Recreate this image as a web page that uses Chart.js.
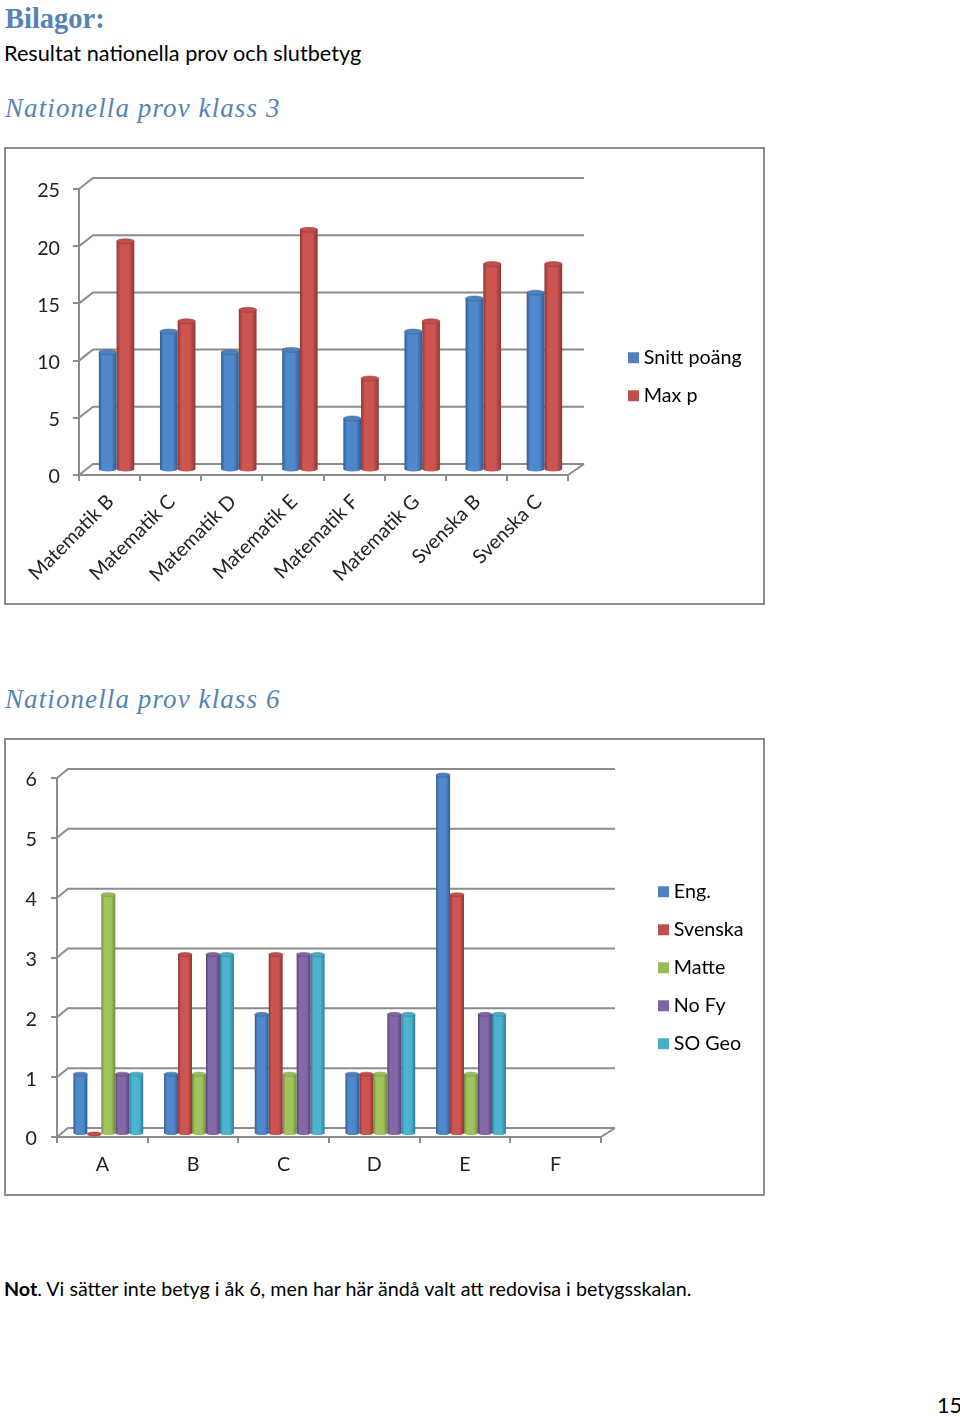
<!DOCTYPE html>
<html lang="sv">
<head>
<meta charset="utf-8">
<title>Bilagor</title>
<style>
  html, body { margin: 0; background: #fff; }
  body { position: relative; width: 960px; height: 1417px; overflow: hidden; font-family: Lato, sans-serif; color: #000; }
  .txt { position: absolute; white-space: nowrap; line-height: 1; }
  .h1 { font: bold 28.5px "Liberation Serif", serif; color: #5583b5; }
  .h2 { font: italic 27px "Liberation Serif", serif; color: #5583b5; letter-spacing: 1.1px; }
  .body { font-size: 21.7px; }
  .note { font-size: 19.7px; }
  .box { position: absolute; left: 4px; width: 761px; height: 458px; box-sizing: border-box; border: 2px solid #8c8c8c; }
  .box canvas { display: block; }
</style>
</head>
<body>
<div class="txt h1" style="left:5px;top:3px">Bilagor:</div>
<div class="txt body" style="left:4px;top:43px">Resultat nationella prov och slutbetyg</div>
<div class="txt h2" style="left:5px;top:93px">Nationella prov klass 3</div>
<div class="box" style="top:147px"><canvas id="klass3" width="757" height="454"></canvas></div>
<div class="txt h2" style="left:5px;top:684px">Nationella prov klass 6</div>
<div class="box" style="top:738px"><canvas id="klass6" width="757" height="454"></canvas></div>
<div class="txt note" style="left:4px;top:1279px"><b>Not</b>. Vi sätter inte betyg i åk 6, men har här ändå valt att redovisa i betygsskalan.</div>
<div class="txt body" style="left:937px;top:1395px">15</div>

<script src="https://cdn.jsdelivr.net/npm/chart.js@4"></script>
<script>
// klass 3
const prov3 = ['Matematik B', 'Matematik C', 'Matematik D', 'Matematik E', 'Matematik F', 'Matematik G', 'Svenska B', 'Svenska C'];
const snittPoang = [10.3, 12.1, 10.3, 10.5, 4.5, 12.1, 15, 15.5];
const maxP = [20, 13, 14, 21, 8, 13, 18, 18];
const ticks3 = [0, 5, 10, 15, 20, 25];

// klass 6
const betyg = ['A', 'B', 'C', 'D', 'E', 'F'];
const eng = [1, 1, 2, 1, 6, null];
const svenska = [0, 3, 3, 1, 4, null];
const matte = [4, 1, 1, 1, 1, null];
const noFy = [1, 3, 3, 2, 2, null];
const soGeo = [1, 3, 3, 2, 2, null];
const ticks6 = [0, 1, 2, 3, 4, 5, 6];

// [ljus mitt, mörk kant, ren färg]
const blue = ['#5088cc', '#2f5c91', '#4f81bd'];
const red = ['#cc5451', '#8f3431', '#c0504d'];
const green = ['#a0c45c', '#6f8a3c', '#9bbb59'];
const purple = ['#8568aa', '#594375', '#8064a2'];
const cyan = ['#4db4d0', '#2e7d94', '#4bacc6'];

const GREY = '#8c8c8c';
const FONT = { family: 'Lato', size: 19.7 };

function cylinderFill(ctx, x, w, c) {
  const g = ctx.createLinearGradient(x - w / 2, 0, x + w / 2, 0);
  g.addColorStop(0, c[1]);
  g.addColorStop(0.2, c[0]);
  g.addColorStop(0.7, c[0]);
  g.addColorStop(1, c[1]);
  return g;
}

// bakvägg, golv och cylindrar, Chart.js har ingen 3D
const fake3d = {
  id: 'fake3d',
  beforeLayout(chart, args, o) {
    const legend = chart.legend;
    if (legend.patched) return;
    legend.patched = true;
    const fit = legend.fit;
    legend.fit = function () {
      fit.call(this);
      this.width = o.legendWidth;
    };
  },
  afterLayout(chart, args, o) {
    const l = chart.legend;
    const pad = l.options.labels.padding;
    l.left = o.legendX + 5 - pad;
    l.right = l.left + l.width;
    l.top = o.legendY - 9 - pad;
    l.bottom = l.top + l.height;
  },
  beforeDatasetsDraw(chart, args, o) {
    const { ctx, scales: { y } } = chart;
    const a = chart.chartArea;
    ctx.save();
    ctx.strokeStyle = GREY;
    ctx.lineWidth = 2;
    ctx.beginPath();
    y.ticks.forEach(t => {
      const py = y.getPixelForValue(t.value);
      ctx.moveTo(a.left, py);
      ctx.lineTo(a.left + o.depthX, py - o.depthY);
      ctx.lineTo(a.right + o.depthR, py - o.depthY);
    });
    ctx.moveTo(a.right, a.bottom);
    ctx.lineTo(a.right + o.depthR, a.bottom - o.depthY);
    ctx.stroke();
    ctx.restore();
    ctx.save();
    ctx.translate(o.shiftX, o.shiftY);
  },
  afterDatasetDraw(chart, args, o) {
    const { ctx } = chart;
    const colors = chart.data.datasets[args.index].shade;
    args.meta.data.forEach((bar, i) => {
      if (chart.data.datasets[args.index].data[i] === null) return;
      const g = cylinderFill(ctx, bar.x, bar.width, colors);
      ctx.fillStyle = g;
      ctx.beginPath();
      ctx.ellipse(bar.x, bar.base, bar.width / 2, o.ry, 0, 0, Math.PI * 2);
      ctx.fill();
      ctx.fillStyle = colors[2];
      ctx.strokeStyle = colors[1];
      ctx.lineWidth = 0.5;
      ctx.beginPath();
      ctx.ellipse(bar.x, bar.y, bar.width / 2, o.ry, 0, 0, Math.PI * 2);
      ctx.fill();
      ctx.stroke();
    });
  },
  afterDatasetsDraw(chart) {
    chart.ctx.restore();
  }
};

function makeChart(id, labels, series, tickValues, g) {
  const canvas = document.getElementById(id);
  const W = canvas.width, H = canvas.height;
  const catPct = g.catPct;
  return new Chart(canvas, {
    type: 'bar',
    plugins: [fake3d],
    data: {
      labels,
      datasets: series.map((s, si) => ({
        label: s.label,
        data: s.data,
        shade: s.color,
        barPercentage: 1,
        categoryPercentage: catPct,
        backgroundColor(c) {
          const xs = c.chart.scales.x;
          const cat = xs.width / labels.length;
          const w = cat * catPct / series.length;
          const cx = xs.getPixelForValue(c.dataIndex) + (si - (series.length - 1) / 2) * w;
          return cylinderFill(c.chart.ctx, cx, w, s.color);
        }
      }))
    },
    options: {
      responsive: false,
      animation: false,
      layout: { padding: { left: 0, right: 0, bottom: 0, top: g.top - g.oy } },
      plugins: {
        tooltip: { enabled: false },
        fake3d: {
          depthX: g.depthX, depthY: g.depthY, depthR: g.depthR,
          shiftX: g.shiftX, shiftY: g.shiftY, ry: g.ry,
          legendWidth: W - (g.right - g.ox),
          legendX: g.legendX - g.ox, legendY: g.legendY - g.oy
        },
        legend: {
          position: 'right',
          align: 'start',
          labels: {
            color: '#222',
            font: FONT,
            padding: 18.3,
            usePointStyle: true,
            boxWidth: 1,
            boxHeight: 11,
            generateLabels: chart => chart.data.datasets.map((d, i) => ({
              text: d.label,
              fillStyle: d.shade[2],
              strokeStyle: d.shade[2],
              lineWidth: 0,
              pointStyle: 'rect',
              datasetIndex: i
            }))
          }
        }
      },
      scales: {
        x: {
          afterFit: s => { s.height = H - (g.bottom - g.oy); },
          grid: { drawOnChartArea: false, color: GREY, lineWidth: 2, tickLength: 6 },
          border: { color: GREY, width: 2 },
          ticks: { color: '#222', font: FONT, padding: g.xPad, labelOffset: g.xOff, minRotation: g.rot, maxRotation: g.rot, autoSkip: false }
        },
        y: {
          min: tickValues[0],
          max: tickValues[tickValues.length - 1],
          afterFit: s => { s.width = g.left - g.ox; },
          afterBuildTicks: s => { s.ticks = tickValues.map(v => ({ value: v })); },
          grid: { drawOnChartArea: false, color: GREY, lineWidth: 2, tickLength: 6 },
          border: { color: GREY, width: 2 },
          ticks: { color: '#222', font: FONT, padding: g.yPad, labelOffset: 2 }
        }
      }
    }
  });
}

makeChart('klass3', prov3, [
  { label: 'Snitt poäng', data: snittPoang, color: blue },
  { label: 'Max p', data: maxP, color: red }
], ticks3, {
  ox: 6, oy: 149, left: 79, right: 568, top: 189, bottom: 475,
  depthX: 14, depthY: 11, depthR: 16, shiftX: 7, shiftY: -5, ry: 2.5,
  catPct: 0.58, rot: 45, xPad: 9, xOff: 1, yPad: 13, legendX: 628, legendY: 357
});

makeChart('klass6', betyg, [
  { label: 'Eng.', data: eng, color: blue },
  { label: 'Svenska', data: svenska, color: red },
  { label: 'Matte', data: matte, color: green },
  { label: 'No Fy', data: noFy, color: purple },
  { label: 'SO Geo', data: soGeo, color: cyan }
], ticks6, {
  ox: 6, oy: 740, left: 57, right: 601, top: 778, bottom: 1137,
  depthX: 11, depthY: 9, depthR: 14, shiftX: 6, shiftY: -3, ry: 2,
  catPct: 0.77, rot: 0, xPad: 10, xOff: 0, yPad: 14, legendX: 658, legendY: 891
});
</script>
</body>
</html>
